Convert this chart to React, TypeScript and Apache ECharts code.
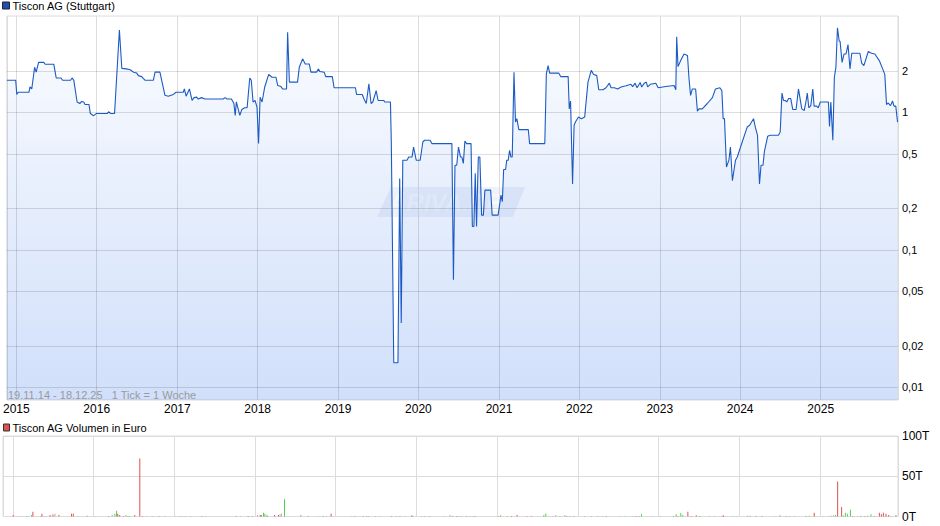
import React, { useEffect, useRef } from "react";
import * as echarts from "echarts";

// Weekly close (Stuttgart), EUR — [date, price]
const price: [string, number][] = [
  ["2014-11-19", 1.71], ["2014-12-29", 1.71], ["2015-01-03", 1.35], ["2015-01-09", 1.4], ["2015-02-27", 1.4],
  ["2015-03-04", 1.53], ["2015-03-12", 1.48], ["2015-03-25", 2.13], ["2015-04-01", 1.96], ["2015-04-12", 2.31],
  ["2015-05-06", 2.31], ["2015-05-12", 2.24], ["2015-06-20", 2.24], ["2015-07-01", 1.78], ["2015-07-23", 1.78],
  ["2015-07-30", 1.71], ["2015-09-04", 1.71], ["2015-09-11", 1.78], ["2015-09-19", 1.71], ["2015-10-04", 1.19],
  ["2015-10-16", 1.16], ["2015-10-25", 1.2], ["2015-11-03", 1.19], ["2015-11-09", 1.14], ["2015-11-27", 1.14],
  ["2015-12-03", 0.98], ["2015-12-18", 0.946], ["2015-12-30", 0.98], ["2016-02-18", 0.98], ["2016-02-24", 1.01],
  ["2016-03-05", 0.98], ["2016-03-22", 0.98], ["2016-04-13", 3.97], ["2016-04-24", 2.09], ["2016-05-14", 2.07],
  ["2016-06-01", 2.04], ["2016-06-16", 1.96], ["2016-07-01", 1.93], ["2016-07-08", 1.85], ["2016-07-23", 1.82],
  ["2016-08-08", 1.71], ["2016-09-14", 1.71], ["2016-09-22", 1.96], ["2016-10-14", 1.96], ["2016-11-06", 1.33],
  ["2016-11-21", 1.31], ["2016-12-14", 1.35], ["2016-12-26", 1.4], ["2017-01-28", 1.4], ["2017-02-02", 1.48],
  ["2017-02-10", 1.31], ["2017-02-25", 1.48], ["2017-03-09", 1.22], ["2017-03-18", 1.28], ["2017-03-30", 1.29],
  ["2017-04-06", 1.25], ["2017-04-21", 1.28], ["2017-05-07", 1.25], ["2017-07-28", 1.25], ["2017-08-06", 1.28],
  ["2017-08-15", 1.25], ["2017-09-04", 1.25], ["2017-09-15", 1.16], ["2017-09-21", 0.95], ["2017-09-26", 1.19],
  ["2017-10-12", 0.95], ["2017-10-21", 1.05], ["2017-11-03", 1.08], ["2017-11-14", 1.08], ["2017-11-26", 1.78],
  ["2017-12-03", 1.71], ["2017-12-11", 1.19], ["2017-12-20", 1.22], ["2017-12-29", 1.09], ["2018-01-05", 0.593],
  ["2018-01-12", 1.29], ["2018-01-21", 1.19], ["2018-02-02", 1.53], ["2018-02-20", 1.89], ["2018-03-07", 1.8],
  ["2018-03-25", 1.8], ["2018-04-02", 1.57], ["2018-04-17", 1.54], ["2018-04-24", 1.48], ["2018-05-12", 1.48],
  ["2018-05-17", 3.82], ["2018-05-25", 1.66], ["2018-07-01", 1.66], ["2018-07-09", 2.13], ["2018-07-24", 2.45],
  ["2018-08-05", 2.25], ["2018-08-23", 2.25], ["2018-08-31", 1.96], ["2018-09-25", 1.96], ["2018-10-04", 2.07],
  ["2018-10-10", 1.98], ["2018-10-30", 1.96], ["2018-11-06", 1.82], ["2018-12-06", 1.82], ["2018-12-14", 1.51],
  ["2019-03-21", 1.51], ["2019-03-26", 1.35], ["2019-04-21", 1.35], ["2019-04-28", 1.26], ["2019-05-09", 1.16],
  ["2019-05-21", 1.61], ["2019-05-31", 1.16], ["2019-06-08", 1.19], ["2019-06-23", 1.44], ["2019-07-02", 1.22],
  ["2019-07-28", 1.22], ["2019-08-01", 1.19], ["2019-08-27", 1.19], ["2019-08-31", 0.593], ["2019-09-11", 0.0151],
  ["2019-09-30", 0.0151], ["2019-10-08", 0.331], ["2019-10-15", 0.0294], ["2019-10-22", 0.449], ["2019-11-10", 0.449],
  ["2019-11-18", 0.474], ["2019-12-03", 0.474], ["2019-12-10", 0.56], ["2019-12-22", 0.449], ["2020-01-09", 0.449],
  ["2020-01-21", 0.609], ["2020-01-29", 0.627], ["2020-02-23", 0.627], ["2020-03-02", 0.593], ["2020-06-01", 0.593],
  ["2020-06-08", 0.0606], ["2020-06-15", 0.413], ["2020-06-23", 0.413], ["2020-07-01", 0.56], ["2020-07-10", 0.474],
  ["2020-07-16", 0.474], ["2020-07-23", 0.425], ["2020-07-30", 0.619], ["2020-08-07", 0.593], ["2020-08-27", 0.593],
  ["2020-09-02", 0.148], ["2020-09-09", 0.148], ["2020-09-15", 0.36], ["2020-09-21", 0.148], ["2020-09-29", 0.474],
  ["2020-10-06", 0.474], ["2020-10-14", 0.179], ["2020-10-22", 0.179], ["2020-10-29", 0.272], ["2020-11-24", 0.272],
  ["2020-12-01", 0.179], ["2020-12-28", 0.179], ["2021-01-10", 0.25], ["2021-01-16", 0.224], ["2021-01-22", 0.384],
  ["2021-01-31", 0.384], ["2021-02-05", 0.449], ["2021-02-12", 0.449], ["2021-02-18", 0.53], ["2021-02-24", 0.474],
  ["2021-03-02", 0.474], ["2021-03-10", 1.96], ["2021-03-17", 0.85], ["2021-03-23", 0.9], ["2021-04-01", 0.749],
  ["2021-05-14", 0.749], ["2021-05-20", 0.593], ["2021-07-28", 0.593], ["2021-08-04", 1.91], ["2021-08-12", 2.19],
  ["2021-08-19", 1.93], ["2021-09-29", 1.93], ["2021-10-08", 1.82], ["2021-11-11", 1.82], ["2021-11-16", 1.06],
  ["2021-11-22", 1.21], ["2021-12-01", 0.301], ["2021-12-08", 0.805], ["2021-12-14", 0.85], ["2021-12-28", 0.924],
  ["2022-01-10", 0.9], ["2022-01-25", 0.924], ["2022-02-09", 1.66], ["2022-02-24", 2.02], ["2022-03-06", 1.89],
  ["2022-03-21", 1.85], ["2022-03-30", 1.46], ["2022-04-18", 1.46], ["2022-05-02", 1.51], ["2022-05-17", 1.63],
  ["2022-05-25", 1.51], ["2022-06-09", 1.51], ["2022-06-24", 1.48], ["2022-07-09", 1.53], ["2022-08-01", 1.56],
  ["2022-08-23", 1.6], ["2022-08-31", 1.54], ["2022-09-11", 1.63], ["2022-09-20", 1.51], ["2022-10-04", 1.65],
  ["2022-10-11", 1.53], ["2022-10-23", 1.63], ["2022-11-01", 1.66], ["2022-11-07", 1.53], ["2022-11-19", 1.6],
  ["2022-12-14", 1.63], ["2022-12-25", 1.51], ["2023-01-28", 1.54], ["2023-03-07", 1.57], ["2023-03-15", 1.46],
  ["2023-03-19", 3.55], ["2023-03-25", 2.15], ["2023-04-06", 2.38], ["2023-04-21", 2.66], ["2023-05-07", 2.59],
  ["2023-05-14", 1.75], ["2023-05-21", 1.33], ["2023-05-29", 1.48], ["2023-06-13", 1.48], ["2023-06-21", 1.02],
  ["2023-06-28", 1.06], ["2023-07-13", 1.06], ["2023-08-05", 1.16], ["2023-08-28", 1.28], ["2023-09-11", 1.48],
  ["2023-10-01", 1.51], ["2023-10-10", 1.44], ["2023-10-16", 0.9], ["2023-10-22", 0.9], ["2023-10-31", 0.401],
  ["2023-11-11", 0.449], ["2023-11-18", 0.56], ["2023-11-27", 0.318], ["2023-12-11", 0.449], ["2023-12-19", 0.474],
  ["2024-01-03", 0.56], ["2024-02-02", 0.782], ["2024-02-13", 0.805], ["2024-03-02", 0.9], ["2024-03-10", 0.78],
  ["2024-03-20", 0.681], ["2024-03-29", 0.301], ["2024-04-05", 0.413], ["2024-04-14", 0.413], ["2024-04-20", 0.516],
  ["2024-05-05", 0.67], ["2024-05-17", 0.681], ["2024-06-23", 0.681], ["2024-07-01", 0.72], ["2024-07-09", 1.38],
  ["2024-07-16", 1.22], ["2024-07-24", 1.22], ["2024-07-31", 1.19], ["2024-08-08", 1.26], ["2024-08-18", 1.26],
  ["2024-08-27", 1.05], ["2024-09-11", 1.05], ["2024-09-22", 1.48], ["2024-10-07", 1.06], ["2024-10-18", 1.03],
  ["2024-10-27", 1.22], ["2024-11-01", 1.38], ["2024-11-08", 1.08], ["2024-11-17", 1.12], ["2024-11-26", 1.48],
  ["2024-12-02", 1.11], ["2024-12-14", 1.11], ["2024-12-21", 1.08], ["2024-12-30", 1.19], ["2025-02-05", 1.19],
  ["2025-02-10", 0.79], ["2025-02-16", 1.19], ["2025-02-25", 0.627], ["2025-03-04", 1.8], ["2025-03-11", 2.13],
  ["2025-03-18", 4.11], ["2025-03-26", 3.29], ["2025-03-30", 3.29], ["2025-04-08", 2.31], ["2025-04-17", 2.66],
  ["2025-04-26", 2.66], ["2025-05-05", 3.11], ["2025-05-14", 2.07], ["2025-05-22", 2.69], ["2025-06-28", 2.69],
  ["2025-07-06", 2.28], ["2025-07-16", 2.19], ["2025-08-05", 2.77], ["2025-08-20", 2.69], ["2025-09-04", 2.66],
  ["2025-09-24", 2.38], ["2025-10-12", 2.02], ["2025-10-19", 1.89], ["2025-10-27", 1.14], ["2025-11-03", 1.17],
  ["2025-11-14", 1.12], ["2025-11-23", 1.21], ["2025-11-30", 1.11], ["2025-12-08", 1.11], ["2025-12-16", 0.85],
];

// Weekly volume in thousand EUR (T) — down weeks
const volDown: [string, number][] = [
  ["2015-01-02", 2], ["2015-04-01", 5.9], ["2015-05-12", 3.3], ["2015-06-18", 2], ["2015-07-01", 2.5],
  ["2015-07-28", 2], ["2015-09-23", 3.3], ["2015-10-01", 3.3], ["2015-12-02", 0.8], ["2016-03-09", 0.6],
  ["2016-04-19", 3.3], ["2016-04-28", 2], ["2016-05-16", 0.6], ["2016-07-05", 2], ["2016-07-28", 72],
  ["2016-08-08", 0.6], ["2016-10-22", 0.6], ["2017-05-05", 0.6], ["2017-10-08", 0.6], ["2017-12-01", 0.5],
  ["2017-12-19", 0.5], ["2018-01-24", 2], ["2018-01-29", 2], ["2018-02-26", 0.5], ["2018-03-30", 2],
  ["2018-04-17", 2], ["2018-08-30", 0.6], ["2018-11-06", 0.6], ["2018-12-11", 3.3], ["2019-03-29", 0.6],
  ["2019-05-06", 0.6], ["2019-05-28", 0.6], ["2019-09-11", 0.6], ["2019-10-19", 0.6], ["2019-12-16", 0.6],
  ["2020-03-02", 0.6], ["2020-06-12", 0.5], ["2020-07-01", 0.6], ["2020-08-15", 0.6], ["2020-09-17", 0.5],
  ["2021-01-06", 0.6], ["2021-03-07", 0.6], ["2021-04-01", 2], ["2021-05-16", 0.6], ["2021-06-05", 0.6],
  ["2021-11-12", 0.5], ["2021-12-14", 0.5], ["2022-05-10", 0.6], ["2022-09-21", 0.6], ["2022-10-05", 0.6],
  ["2023-03-10", 0.6], ["2023-03-30", 0.5], ["2023-05-14", 5.9], ["2023-05-29", 0.6], ["2023-06-21", 1.7],
  ["2023-07-06", 0.6], ["2023-10-16", 0.6], ["2023-10-22", 1.7], ["2024-03-18", 0.6], ["2024-04-14", 0.6],
  ["2024-07-31", 0.6], ["2024-10-30", 0.6], ["2024-12-06", 4.6], ["2025-03-22", 43.5], ["2025-04-09", 11.7],
  ["2025-05-29", 0.6], ["2025-07-04", 0.6], ["2025-07-24", 0.6], ["2025-09-04", 0.6], ["2025-09-27", 4.6],
  ["2025-10-06", 2.9], ["2025-10-15", 4.6], ["2025-10-27", 3.3], ["2025-11-08", 2], ["2025-12-11", 1.7],
];

// up weeks
const volUp: [string, number][] = [
  ["2015-03-04", 0.6], ["2015-03-26", 2], ["2015-05-06", 0.6], ["2016-04-06", 3.3], ["2016-04-14", 7.1],
  ["2016-06-04", 0.6], ["2016-06-10", 0.6], ["2016-09-22", 0.6], ["2016-11-18", 0.6], ["2017-02-04", 0.6],
  ["2017-02-19", 0.6], ["2017-03-15", 0.6], ["2018-02-08", 4.6], ["2018-02-14", 3.3], ["2018-02-23", 2],
  ["2018-05-14", 21.5], ["2018-07-27", 2], ["2019-05-21", 0.6], ["2019-06-28", 0.6], ["2019-10-04", 0.6],
  ["2019-12-11", 2], ["2020-02-08", 0.6], ["2020-07-08", 0.6], ["2020-07-23", 0.6], ["2020-08-30", 0.6],
  ["2020-09-26", 0.6], ["2021-01-16", 1.7], ["2021-02-15", 0.6], ["2021-07-31", 2], ["2021-08-09", 3.8],
  ["2021-11-26", 0.5], ["2022-02-01", 0.6], ["2022-03-03", 0.6], ["2022-04-02", 0.6], ["2022-04-23", 0.6],
  ["2022-08-05", 0.6], ["2022-09-04", 0.6], ["2022-10-16", 2.9], ["2023-01-10", 0.6], ["2023-03-22", 2.9],
  ["2023-04-12", 4.2], ["2023-04-21", 2], ["2023-08-20", 0.6], ["2023-09-11", 0.6], ["2023-12-03", 0.6],
  ["2024-02-09", 1], ["2024-02-20", 0.8], ["2024-07-04", 1.7], ["2024-08-15", 0.6], ["2024-09-07", 0.6],
  ["2024-11-14", 0.8], ["2025-02-10", 0.6], ["2025-02-21", 1], ["2025-03-12", 2], ["2025-04-17", 1.2],
  ["2025-04-26", 4.6], ["2025-05-05", 3.3], ["2025-05-19", 8.4], ["2025-08-05", 1], ["2025-08-20", 2.9],
  ["2025-11-19", 0.6],
];

// unchanged weeks
const volFlat: [string, number][] = [
  ["2015-01-28", 0.6], ["2015-02-12", 0.6], ["2015-05-21", 0.6], ["2015-06-01", 0.6], ["2015-07-10", 3.3],
  ["2015-10-22", 0.6], ["2016-01-06", 0.6], ["2016-03-25", 2], ["2016-05-26", 2], ["2016-08-30", 0.6],
  ["2017-01-06", 0.6], ["2017-01-24", 0.6], ["2017-05-21", 0.6], ["2017-10-27", 0.6], ["2017-11-29", 0.6],
  ["2018-01-12", 2], ["2018-04-24", 2.5], ["2018-04-30", 3.8], ["2018-10-14", 0.6], ["2018-11-21", 0.6],
  ["2019-03-14", 0.6], ["2019-07-20", 0.6], ["2019-11-10", 0.6], ["2020-01-24", 0.6], ["2020-05-09", 0.6],
  ["2020-06-01", 2], ["2021-08-21", 0.6], ["2021-09-11", 0.6], ["2021-09-23", 2], ["2021-10-11", 0.6],
  ["2021-11-03", 2], ["2022-07-09", 0.6], ["2022-11-29", 0.6], ["2023-12-19", 0.6], ["2024-06-08", 0.6],
  ["2025-01-14", 0.6], ["2025-03-03", 1.7], ["2025-06-21", 0.6],
];

const priceGridLevels = [2, 1, 0.5, 0.2, 0.1, 0.05, 0.02, 0.01];
const volumeTicks = [0, 50, 100];
const rangeStart = "2014-11-19";
const rangeEnd = "2025-12-18";
const rangeNote = "19.11.14 - 18.12.25   1 Tick = 1 Woche";
const priceName = "Tiscon AG (Stuttgart)";
const volumeName = "Tiscon AG Volumen in Euro";

export default function App() {
  const ref = useRef<HTMLDivElement>(null);

  useEffect(() => {
    if (!ref.current) return;
    const chart = echarts.init(ref.current, null, { renderer: "svg" });
    const gridColor = "#dcdcdc";
    const YEAR = 365 * 24 * 3600 * 1000;
    const font = "'Liberation Sans', Arial, sans-serif";

    chart.setOption({
      animation: false,
      textStyle: { fontFamily: font },
      grid: [
        { left: 3, right: 42, top: 16, height: 384, show: true, borderColor: gridColor, borderWidth: 1, backgroundColor: "transparent" },
        { left: 3, right: 42, top: 436, height: 80.5, show: true, borderColor: gridColor, borderWidth: 1, backgroundColor: "transparent" },
      ],
      legend: [
        {
          left: 2, top: 0, padding: 0, icon: "rect", itemWidth: 7, itemHeight: 7,
          data: [priceName],
          itemStyle: { color: "#1d4fae", borderColor: "#223", borderWidth: 1 },
          textStyle: { fontSize: 11, color: "#000", padding: [1, 0, 0, -2] },
        },
        {
          left: 3, top: 422, padding: 0, icon: "rect", itemWidth: 6, itemHeight: 7,
          data: [volumeName],
          itemStyle: { color: "#e05050", borderColor: "#333", borderWidth: 1 },
          textStyle: { fontSize: 11, color: "#000", padding: [1, 0, 0, -2] },
        },
      ],
      xAxis: [
        {
          type: "time", gridIndex: 0, min: rangeStart, max: rangeEnd,
          minInterval: YEAR, maxInterval: YEAR * 1.01,
          axisLine: { show: false }, axisTick: { show: false },
          axisLabel: { formatter: "{yyyy}", color: "#000", fontSize: 12, margin: 3, showMinLabel: false, showMaxLabel: false },
          splitLine: { show: true, lineStyle: { color: gridColor } },
        },
        {
          type: "time", gridIndex: 1, min: rangeStart, max: rangeEnd,
          minInterval: YEAR, maxInterval: YEAR * 1.01,
          axisLine: { show: false }, axisTick: { show: false },
          axisLabel: { show: false },
          splitLine: { show: true, lineStyle: { color: gridColor } },
        },
      ],
      yAxis: [
        {
          type: "log", logBase: 10, gridIndex: 0, min: 0.0081, max: 5.02, position: "right",
          axisLine: { show: false }, axisTick: { show: false }, axisLabel: { show: false },
          splitLine: { show: false },
        },
        {
          type: "value", gridIndex: 1, min: volumeTicks[0], max: volumeTicks[2], interval: volumeTicks[1],
          position: "right",
          axisLine: { show: false }, axisTick: { show: false },
          axisLabel: { formatter: "{value}T", color: "#000", fontSize: 12, margin: 4, fontFamily: "'Liberation Sans Narrow', 'Liberation Sans', Arial" },
          splitLine: { show: true, lineStyle: { color: gridColor } },
        },
      ],
      series: [
        {
          name: priceName,
          type: "line",
          xAxisIndex: 0, yAxisIndex: 0,
          data: price,
          showSymbol: false,
          symbol: "none",
          lineStyle: { color: "#1d5bc4", width: 1.1 },
          itemStyle: { color: "#1d4fae" },
          areaStyle: {
            origin: "start",
            color: new echarts.graphic.LinearGradient(0, 0, 0, 1, [
              { offset: 0, color: "rgba(0,80,230,0.03)" },
              { offset: 1, color: "rgba(0,80,230,0.26)" },
            ]),
          },
          markLine: {
            silent: true,
            symbol: ["none", "none"],
            animation: false,
            lineStyle: { color: "rgba(0,0,0,0.13)", type: "solid", width: 1 },
            label: {
              position: "end", distance: 4, color: "#000", fontSize: 11,
              formatter: (p: any) => String(p.value).replace(".", ","),
            },
            emphasis: { disabled: true },
            data: priceGridLevels.map((v) => ({ yAxis: v })),
          },
          z: 3,
        },
        {
          name: volumeName, type: "bar", xAxisIndex: 1, yAxisIndex: 1,
          data: volDown, barWidth: 1, barGap: "-100%", itemStyle: { color: "#e05050" },
        },
        {
          name: "up", type: "bar", xAxisIndex: 1, yAxisIndex: 1,
          data: volUp, barWidth: 1, barGap: "-100%", itemStyle: { color: "#4fd04f" },
        },
        {
          name: "flat", type: "bar", xAxisIndex: 1, yAxisIndex: 1,
          data: volFlat, barWidth: 1, barGap: "-100%", itemStyle: { color: "#b0b0b0" },
        },
      ],
      graphic: [
        {
          type: "group", left: 377, top: 187, silent: true, z: 1,
          children: [
            {
              type: "polygon",
              shape: { points: [[14, 0], [148, 0], [136, 30], [0, 30]] },
              style: { fill: "rgba(150,175,220,0.16)" },
            },
            {
              type: "text", x: 12, y: 3,
              style: {
                text: "ARIVA.DE", fill: "rgba(255,255,255,0.55)",
                font: "italic bold 24px 'Liberation Sans', Arial, sans-serif",
              },
            },
          ],
        },
        {
          type: "text", left: 8, top: 389, silent: true, z: 10,
          style: { text: rangeNote, fill: "#9a9a9a", font: "11px 'Liberation Sans', Arial, sans-serif" },
        },
      ],
    });

    return () => chart.dispose();
  }, []);

  return (
    <div
      ref={ref}
      style={{ position: "absolute", left: 0, top: 0, width: 940, height: 526, background: "#fff" }}
    />
  );
}
